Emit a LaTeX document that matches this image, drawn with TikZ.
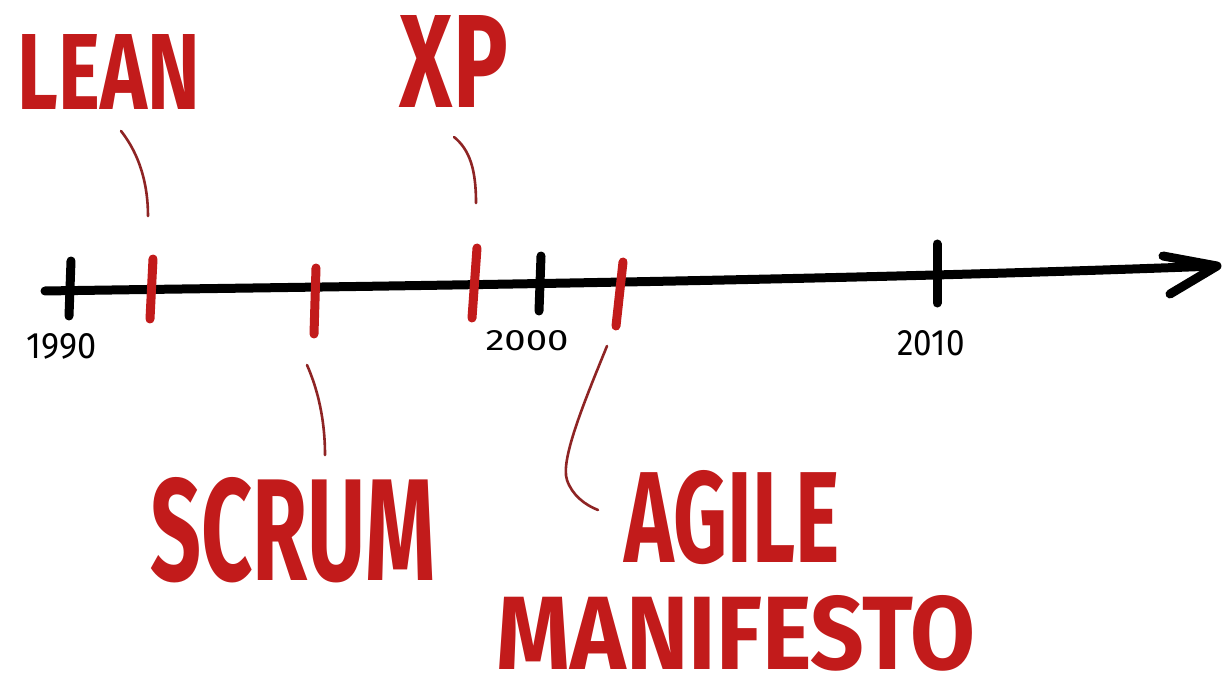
\documentclass[tikz,border=0pt]{standalone}
\usepackage{fontspec}
\usepackage{graphicx}
\setmainfont{Fira Sans}
\definecolor{mred}{HTML}{C21B1B}
\definecolor{lred}{HTML}{8E2424}
\begin{document}
\begin{tikzpicture}[x=1pt,y=-1pt,
  lbl/.style={inner sep=0pt,text=mred,font=\bfseries},
  yr/.style={inner sep=0pt,text=black},
  axis/.style={line width=9pt,line cap=round,line join=round,black},
  btick/.style={line width=9pt,line cap=round,black},
  rtick/.style={line width=9pt,line cap=round,mred},
  leader/.style={line width=2.6pt,line cap=round,lred}]
\useasboundingbox[fill=white] (0,0) rectangle (1230,692);
% axis
\draw[axis] (45,291) .. controls (300,287) and (800,282) .. (1215,266);
\draw[axis] (1163,256) -- (1217,266) -- (1170,294);
% black ticks
\draw[btick] (71,261) -- (69,316);
\draw[btick] (541,256) -- (539,311);
\draw[btick] (937,244) -- (937,303);
% red ticks
\draw[rtick] (153,259) -- (150,319);
\draw[rtick] (316,268) -- (314,334);
\draw[rtick] (477,248) -- (472,318);
\draw[rtick] (623,262) -- (616,326);
% year labels
\node[yr] (y1990) at (62,346) {\resizebox{70pt}{25pt}{1990}};
\node[yr] (y2000) at (527,341) {\resizebox{83pt}{20pt}{2000}};
\node[yr] (y2010) at (931,343) {\resizebox{67pt}{25pt}{2010}};
% labels
\node[lbl] (lean) at (109,72) {\resizebox{182pt}{75pt}{LEAN}};
\node[lbl] (xp) at (454,62) {\resizebox{108pt}{92pt}{XP}};
\node[lbl] (scrum) at (293,530) {\resizebox{285pt}{103pt}{SCRUM}};
\node[lbl] (agile) at (732,518) {\resizebox{215pt}{92pt}{AGILE}};
\node[lbl] (manif) at (736,633) {\resizebox{478pt}{74pt}{MANIFESTO}};
% leaders
\coordinate (leanA) at (121,131);
\coordinate (leanB) at (148,216);
\coordinate (xpA) at (454,137);
\coordinate (xpB) at (476,203);
\coordinate (scA) at (307,365);
\coordinate (scB) at (325,455);
\coordinate (agA) at (607,346);
\coordinate (agB) at (598,510);
\draw[leader] (leanA) .. controls (140,155) and (148,185) .. (leanB);
\draw[leader] (xpA) .. controls (470,150) and (476,170) .. (xpB);
\draw[leader] (scA) .. controls (318,390) and (325,420) .. (scB);
\draw[leader] (agA) .. controls (585,400) and (560,460) .. (567,480) .. controls (572,495) and (585,505) .. (agB);
\end{tikzpicture}
\end{document}
